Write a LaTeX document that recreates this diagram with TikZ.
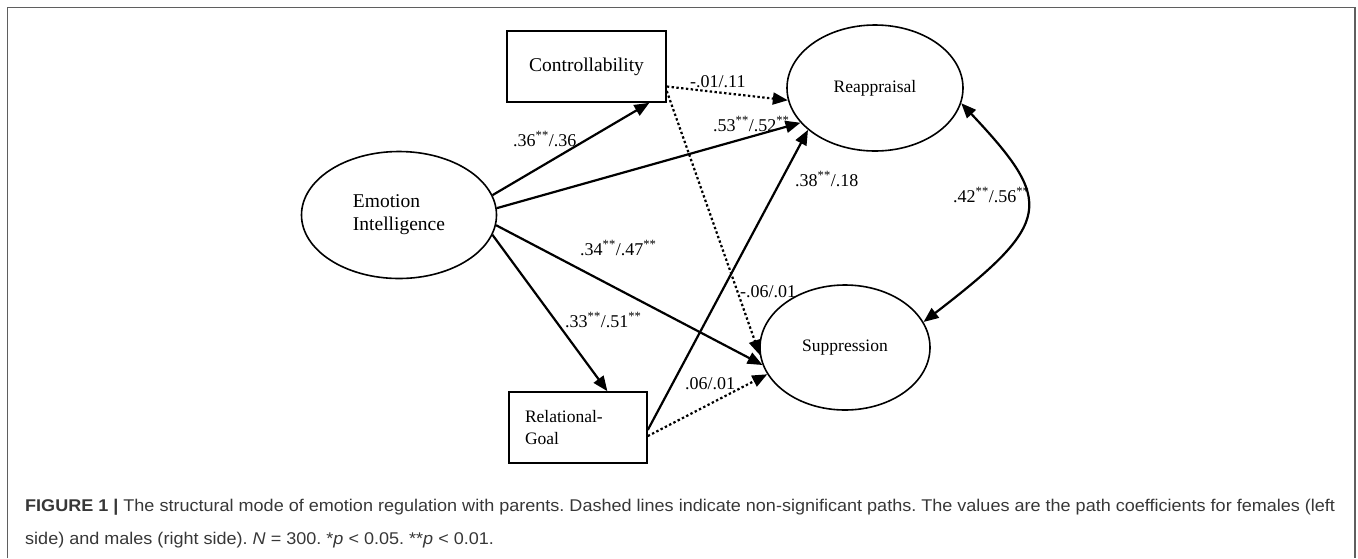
\documentclass[tikz,border=0pt]{standalone}
\usepackage{fontspec}
\usepackage{graphicx}
\setmainfont{Liberation Serif}
\newfontfamily\capfont{Liberation Sans}
\usetikzlibrary{arrows.meta,shapes.geometric}
\definecolor{framegray}{RGB}{95,95,95}
\definecolor{captext}{RGB}{55,55,55}
\frenchspacing
\newlength\caplen
\newcommand\capfontsize{\capfont\fontsize{17}{20}\selectfont}
\newcommand\caplineone{\textbf{FIGURE 1 |} The structural mode of emotion regulation with parents. Dashed lines indicate non-significant paths. The values are the path coefficients for females (left}
\newcommand\caplinetwo{side) and males (right side). \textit{N} = 300. *\textit{p} < 0.05. **\textit{p} < 0.01.}

\begin{document}
\settowidth{\caplen}{\capfontsize\caplineone}
\pgfmathsetmacro\capscale{1310/\caplen}
\begin{tikzpicture}[
  x=1pt, y=-1pt,
  latent/.style={ellipse, draw, line width=1.6pt, inner sep=0pt},
  observed/.style={rectangle, draw, line width=1.6pt, minimum height=71pt},
  sigpath/.style={-{Triangle[length=15pt,width=12pt]}, line width=2.2pt},
  nspath/.style={sigpath, dash pattern=on 2.4pt off 2.4pt},
  corpath/.style={{Triangle[length=15pt,width=12pt]}-{Triangle[length=15pt,width=12pt]}, line width=2.2pt},
  coef/.style={anchor=base west, inner sep=0pt, font=\fontsize{18}{20}\selectfont},
  caption/.style={anchor=base west, inner sep=0pt, text=captext, font=\capfontsize}
]
\useasboundingbox (0,0) rectangle (1358,558);
\draw[framegray, line width=1.3pt] (7.5,558) -- (7.5,7.5) -- (1355,7.5) -- (1355,558);

\node[latent, minimum width=195pt, minimum height=127pt, align=left, font=\fontsize{19.5}{23}\selectfont] (emo) at (399,215) {Emotion\\Intelligence};
\node[observed, minimum width=159pt, font=\fontsize{19.5}{23}\selectfont] (ctrl) at (586.5,66.5) {Controllability};
\node[latent, minimum width=176pt, minimum height=126pt, font=\fontsize{17.5}{21}\selectfont] (reap) at (875,88) {Reappraisal};
\node[latent, minimum width=170pt, minimum height=125pt, font=\fontsize{17.5}{21}\selectfont] (supp) at (845,347.5) {Suppression};
\node[observed, text width=106pt, inner xsep=16pt, align=left, font=\fontsize{17.5}{22}\selectfont] (relgoal) at (578,427.5) {Relational-\\Goal};

% Paths
\draw[sigpath] (emo.12) -- (ctrl.-30);
\draw[sigpath] (emo.4) -- (reap.205);
\draw[sigpath] (emo.-6) -- (supp.192);
\draw[sigpath] (emo.-12) -- (relgoal.51);
\draw[sigpath] (relgoal.-2) -- (reap.212);
\draw[nspath] (ctrl.-14) -- (reap.188);
\draw[nspath] (ctrl.-17) -- (supp.185);
\draw[nspath] (relgoal.-7) -- (supp.199);
\draw[corpath] (reap.-10) .. controls +(93,99) and +(130,-100) .. (supp.18);

% Coefficients
\node[coef] (c36) at (513,146) {.36\textsuperscript{**}/.36};
\node[coef] (c01) at (690,87) {-.01/.11};
\node[coef] (c53) at (713,131) {.53\textsuperscript{**}/.52\textsuperscript{**}};
\node[coef] (c34) at (580,255) {.34\textsuperscript{**}/.47\textsuperscript{**}};
\node[coef] (c33) at (565,327) {.33\textsuperscript{**}/.51\textsuperscript{**}};
\node[coef] (c38) at (795,186) {.38\textsuperscript{**}/.18};
\node[coef] (c06) at (740,297) {-.06/.01};
\node[coef] (c0601) at (685,389) {.06/.01};
\node[coef] (c42) at (953,202) {.42\textsuperscript{**}/.56\textsuperscript{**}};

% Caption
\node[caption] (capone) at (25,511) {\scalebox{\capscale}[1]{\caplineone}};
\node[caption] (captwo) at (25,544) {\scalebox{\capscale}[1]{\caplinetwo}};
\end{tikzpicture}
\end{document}
